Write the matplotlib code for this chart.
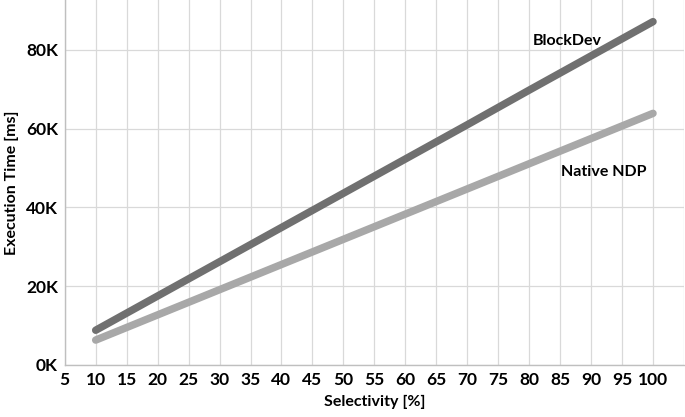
import matplotlib
matplotlib.use("Agg")
import matplotlib.pyplot as plt
from matplotlib.ticker import FuncFormatter

# Data (execution time in ms)
selectivity = [10, 20, 30, 40, 50, 60, 70, 80, 90, 100]
blockdev_ms = [8800, 17500, 26200, 34900, 43600, 52300, 61000, 69800, 78500, 87200]
native_ndp_ms = [6300, 12700, 19100, 25500, 31900, 38300, 44700, 51100, 57500, 63900]
x_ticks = list(range(5, 101, 5))
y_ticks = [0, 20000, 40000, 60000, 80000]

plt.rcParams["font.family"] = ["Lato", "DejaVu Sans"]
plt.rcParams["font.weight"] = "bold"

fig = plt.figure(figsize=(6.85, 4.17), dpi=100)
ax = fig.add_axes([0.0945, 0.125, 0.904, 0.875])

ax.plot(selectivity, blockdev_ms, color="#707070", linewidth=5.4,
        solid_capstyle="round", zorder=3)
ax.plot(selectivity, native_ndp_ms, color="#a8a8a8", linewidth=5.4,
        solid_capstyle="round", zorder=3)

ax.text(80.6, 82300, "BlockDev", fontsize=11.5, fontweight="bold",
        va="center", ha="left")
ax.text(85.2, 49000, "Native NDP", fontsize=11.5, fontweight="bold",
        va="center", ha="left")

ax.set_xlim(5, 105)
ax.set_ylim(0, 92700)
ax.set_xticks(x_ticks)
ax.set_xticks([105], minor=True)
ax.set_yticks(y_ticks)
ax.yaxis.set_major_formatter(FuncFormatter(lambda v, p: f"{int(v / 1000)}K"))

ax.grid(True, which="both", color="#d9d9d9", linewidth=0.9, zorder=0)
ax.tick_params(axis="both", which="both", length=0, labelsize=12.5, pad=5)
for lbl in ax.get_xticklabels() + ax.get_yticklabels():
    lbl.set_fontweight("bold")

for side in ["top", "right"]:
    ax.spines[side].set_visible(False)
for side in ["left", "bottom"]:
    ax.spines[side].set_color("#bfbfbf")
    ax.spines[side].set_linewidth(1.0)

ax.set_xlabel("Selectivity [%]", fontsize=11.5, fontweight="bold", labelpad=5)
ax.set_ylabel("Execution Time [ms]", fontsize=11.5, fontweight="bold", labelpad=5)

fig.savefig("out.png", dpi=100)
